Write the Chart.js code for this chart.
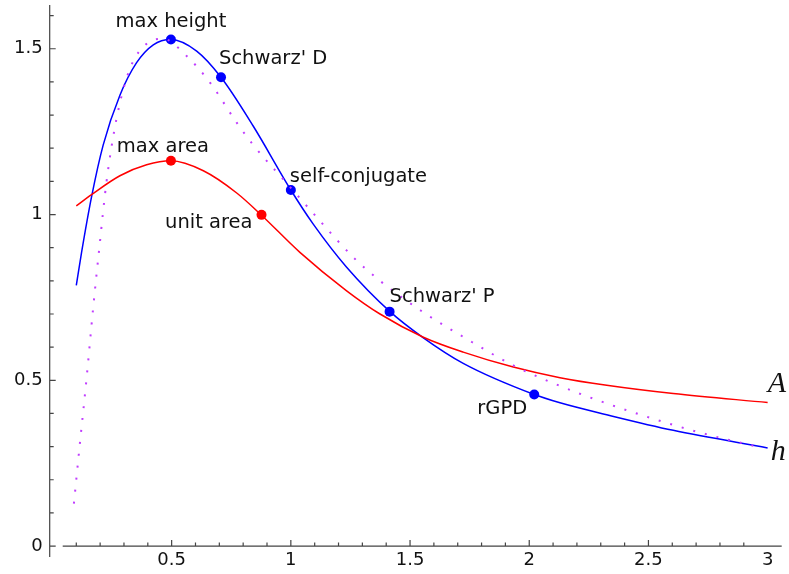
<!DOCTYPE html>
<html>
<head>
<meta charset="utf-8">
<script src="https://cdn.jsdelivr.net/npm/chart.js@4"></script>
<style>
  html, body { margin: 0; padding: 0; background: #fff; }
  #wrap { width: 789px; height: 574px; }
</style>
</head>
<body>
<div id="wrap"><canvas id="chart" width="789" height="574"></canvas></div>
<script>
// height h (blue)
const hX = [0.1, 0.122, 0.164, 0.213, 0.283, 0.353, 0.423, 0.497, 0.605, 0.707, 0.842, 1.0, 1.094, 1.234, 1.416, 1.556, 1.723, 2.021, 2.129, 2.325, 2.604, 3.0]
const hY = [0.786, 0.885, 1.053, 1.21, 1.36, 1.458, 1.512, 1.528, 1.493, 1.414, 1.267, 1.074, 0.971, 0.841, 0.707, 0.628, 0.551, 0.457, 0.432, 0.396, 0.349, 0.296]

// area A (red)
const aX = [0.1, 0.164, 0.283, 0.395, 0.497, 0.633, 0.773, 0.877, 1.038, 1.234, 1.374, 1.556, 1.723, 1.933, 2.129, 2.325, 2.604, 3.0]
const aY = [1.026, 1.06, 1.117, 1.15, 1.162, 1.132, 1.065, 0.998, 0.886, 0.77, 0.70, 0.63, 0.585, 0.54, 0.508, 0.485, 0.46, 0.433]

// dotted comparison curve (purple)
const dX = [0.09, 0.115, 0.143, 0.171, 0.196, 0.227, 0.269, 0.325, 0.395, 0.465, 0.563, 0.661, 0.773, 0.842, 0.982, 1.122, 1.262, 1.374, 1.556, 1.737, 1.933, 2.115, 2.31, 2.611, 2.814, 2.975]
const dY = [0.128, 0.309, 0.505, 0.72, 0.895, 1.10, 1.29, 1.44, 1.515, 1.53, 1.478, 1.398, 1.277, 1.21, 1.095, 0.981, 0.871, 0.80, 0.705, 0.625, 0.545, 0.487, 0.434, 0.364, 0.324, 0.297]

// marked points
const markText = ['max height', "Schwarz' D", 'self-conjugate', "Schwarz' P", 'rGPD', 'max area', 'unit area']
const markX = [0.497, 0.7071, 1.0, 1.4142, 2.021, 0.497, 0.877]
const markY = [1.528, 1.4142, 1.074, 0.7071, 0.457, 1.162, 0.999]
const markColor = ['#0000ff', '#0000ff', '#0000ff', '#0000ff', '#0000ff', '#ff0000', '#ff0000']

const xTicks = [0.5, 1, 1.5, 2, 2.5, 3]
const yTicks = [0, 0.5, 1, 1.5]

const toPts = (xs, ys) => xs.map((x, i) => ({ x: x, y: ys[i] }))

// label offsets relative to the marker (px)
const labelPos = [
  { dx: 0, dy: -18, align: 'center' },
  { dx: -2, dy: -18, align: 'left' },
  { dx: -1, dy: -13, align: 'left' },
  { dx: 0, dy: -15, align: 'left' },
  { dx: -7, dy: 14, align: 'right' },
  { dx: -8, dy: -14, align: 'center' },
  { dx: -9, dy: 8, align: 'right' }
]

const axesPlugin = {
  id: 'mmaAxes',
  afterDraw(chart) {
    const ctx = chart.ctx
    const xs = chart.scales.x
    const ys = chart.scales.y
    const area = chart.chartArea
    const axX = area.left - 13
    const axY = ys.getPixelForValue(0)
    ctx.save()
    ctx.strokeStyle = '#444'
    ctx.lineWidth = 1.2
    ctx.beginPath()
    ctx.moveTo(axX, area.top)
    ctx.lineTo(axX, area.bottom)
    ctx.moveTo(area.left, axY)
    ctx.lineTo(area.right, axY)
    // ticks, every 0.1 with longer ones on the labelled values
    for (let i = 1; i <= 29; i++) {
      const px = xs.getPixelForValue(i / 10)
      const len = i % 5 === 0 ? 6 : 3.5
      ctx.moveTo(px, axY)
      ctx.lineTo(px, axY - len)
    }
    for (let i = 0; i <= 16; i++) {
      const py = ys.getPixelForValue(i / 10)
      const len = i % 5 === 0 ? 6 : 4
      ctx.moveTo(axX, py)
      ctx.lineTo(axX + len, py)
    }
    ctx.stroke()

    ctx.fillStyle = '#111'
    ctx.font = '18px "DejaVu Sans"'
    ctx.textBaseline = 'top'
    ctx.textAlign = 'center'
    xTicks.forEach(v => ctx.fillText(String(v), xs.getPixelForValue(v), axY + 5))
    ctx.textAlign = 'right'
    ctx.textBaseline = 'middle'
    yTicks.forEach(v => ctx.fillText(String(v), axX - 7, ys.getPixelForValue(v)))

    // point labels
    ctx.font = '19.5px "DejaVu Sans"'
    markText.forEach((t, i) => {
      const p = labelPos[i]
      ctx.textAlign = p.align
      ctx.fillText(t, xs.getPixelForValue(markX[i]) + p.dx, ys.getPixelForValue(markY[i]) + p.dy)
    })

    // curve names
    ctx.font = 'italic 30px "Liberation Serif"'
    ctx.textAlign = 'left'
    const nA = aX.length - 1
    const nH = hX.length - 1
    ctx.fillText('A', xs.getPixelForValue(aX[nA]), ys.getPixelForValue(aY[nA]) - 18)
    ctx.fillText('h', xs.getPixelForValue(hX[nH]) + 3, ys.getPixelForValue(hY[nH]) + 4)
    ctx.restore()
  }
}

new Chart(document.getElementById('chart'), {
  type: 'line',
  data: {
    datasets: [
      {
        data: toPts(dX, dY),
        borderColor: '#c03cff',
        borderWidth: 2,
        borderDash: [2, 10],
        pointRadius: 0,
        cubicInterpolationMode: 'monotone'
      },
      {
        data: toPts(aX, aY),
        borderColor: '#ff0000',
        borderWidth: 1.5,
        pointRadius: 0,
        cubicInterpolationMode: 'monotone'
      },
      {
        data: toPts(hX, hY),
        borderColor: '#0000ff',
        borderWidth: 1.5,
        pointRadius: 0,
        cubicInterpolationMode: 'monotone'
      },
      {
        data: toPts(markX, markY),
        showLine: false,
        pointRadius: 5,
        pointBorderWidth: 0,
        pointBackgroundColor: markColor,
        pointBorderColor: markColor
      }
    ]
  },
  options: {
    responsive: false,
    animation: false,
    events: [],
    layout: { padding: { left: 62.7, right: 7.3, top: 4, bottom: 17 } },
    plugins: { legend: { display: false }, tooltip: { enabled: false } },
    scales: {
      x: { type: 'linear', display: false, min: 0.043, max: 3.059 },
      y: { type: 'linear', display: false, min: -0.033, max: 1.632 }
    }
  },
  plugins: [axesPlugin]
});
</script>
</body>
</html>
